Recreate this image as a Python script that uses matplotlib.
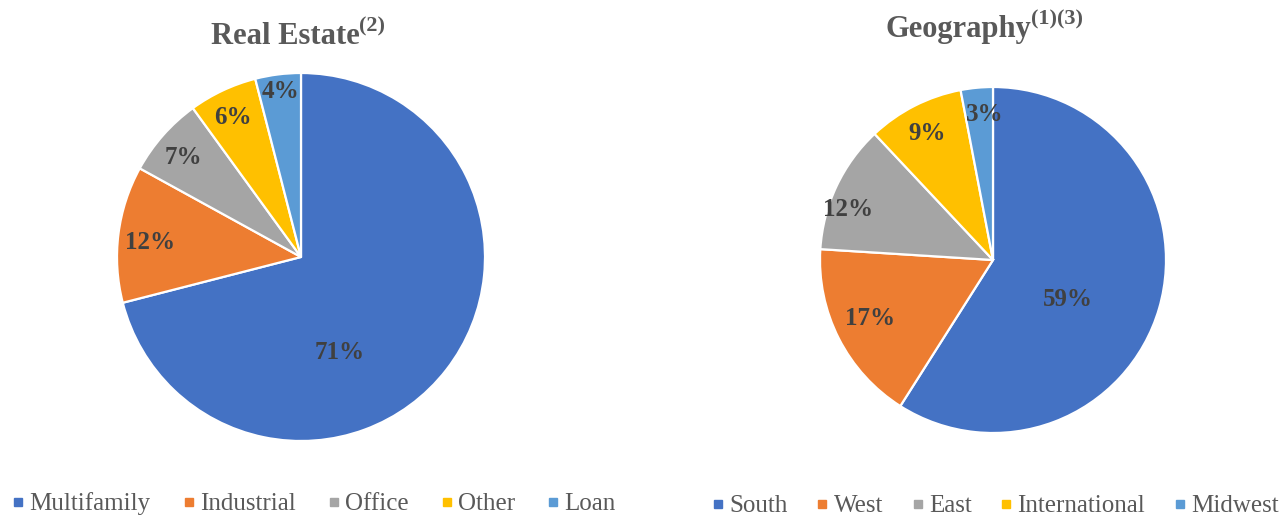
import matplotlib
matplotlib.use("Agg")
import matplotlib.pyplot as plt
from matplotlib.lines import Line2D

# data
re_labels = ["Multifamily", "Industrial", "Office", "Other", "Loan"]
re_values = [71, 12, 7, 6, 4]
geo_labels = ["South", "West", "East", "International", "Midwest"]
geo_values = [59, 17, 12, 9, 3]

colors = ["#4472C4", "#ED7D31", "#A5A5A5", "#FFC000", "#5B9BD5"]

# label spots inside each pie (fraction of radius), like Excel best-fit
re_label_pos = [(0.21, -0.52), (-0.82, 0.08), (-0.64, 0.54), (-0.37, 0.76), (-0.11, 0.90)]
geo_label_pos = [(0.43, -0.23), (-0.71, -0.34), (-0.84, 0.29), (-0.38, 0.73), (-0.05, 0.84)]

plt.rcParams["font.family"] = ["Liberation Serif", "DejaVu Serif"]

W, H = 1285, 516
fig = plt.figure(figsize=(W / 100, H / 100), dpi=100)

text_gray = "#595959"
label_gray = "#404040"


def draw_pie(cx, cy, r, values, label_pos):
    ax = fig.add_axes([(cx - r) / W, (H - cy - r) / H, 2 * r / W, 2 * r / H])
    ax.pie(values, colors=colors, startangle=90, counterclock=False,
           wedgeprops=dict(edgecolor="white", linewidth=1.6))
    ax.set_xlim(-1, 1)
    ax.set_ylim(-1, 1)
    ax.set_aspect("equal")
    for v, (x, y) in zip(values, label_pos):
        ax.text(x, y, f"{v}%", ha="center", va="center", fontsize=18,
                fontweight="bold", color=label_gray)
    return ax


def title(x, y, main, sup):
    t = fig.text(x / W, 1 - y / H, main, ha="center", va="center",
                 fontsize=22, fontweight="bold", color=text_gray)
    plt.annotate(sup, xy=(1, 0.5), xycoords=t, ha="left", va="bottom",
                 fontsize=16, fontweight="bold", color=text_gray)


draw_pie(301, 257, 184, re_values, re_label_pos)
draw_pie(993, 260, 173, geo_values, geo_label_pos)

title(285, 36, "Real Estate", "(2)")
title(958, 29, "Geography", "(1)(3)")


def make_legend(labels, x, y, spacing):
    handles = [Line2D([], [], linestyle="none", marker="s", markersize=6,
                      markerfacecolor=c, markeredgecolor=c) for c in colors]
    leg = fig.legend(handles, labels, loc="center left", bbox_to_anchor=(x / W, 1 - y / H),
                     ncol=5, frameon=False, fontsize=18, handlelength=0.5,
                     handletextpad=0.2, columnspacing=spacing, borderpad=0,
                     borderaxespad=0)
    for t in leg.get_texts():
        t.set_color(text_gray)
    return leg


make_legend(re_labels, 12, 504, 1.27)
make_legend(geo_labels, 712, 506, 1.13)

fig.savefig("out.png", dpi=100)
